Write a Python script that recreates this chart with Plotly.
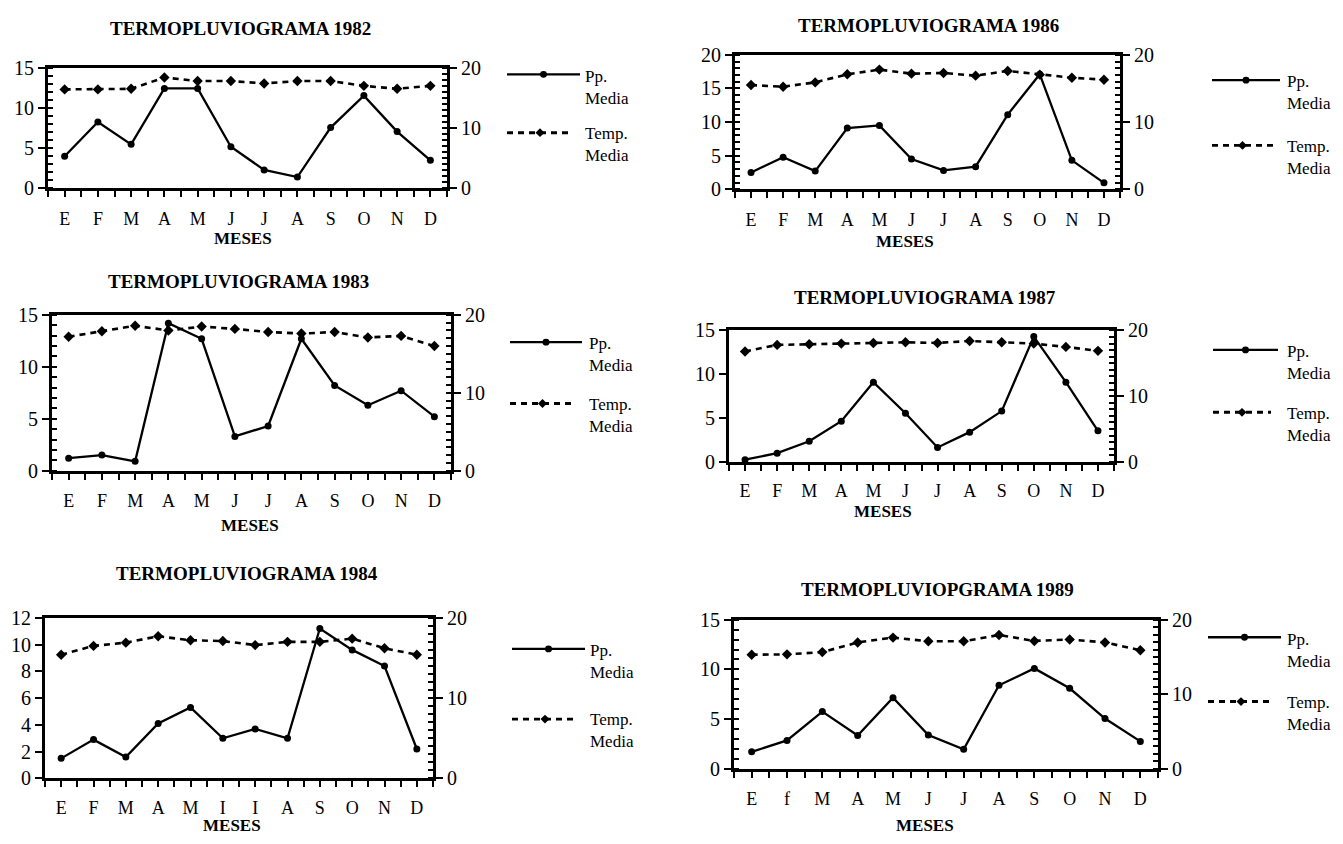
import plotly.graph_objects as go

W, H = 1343, 844

# ---------------- data ----------------
months = ["E", "F", "M", "A", "M", "J", "J", "A", "S", "O", "N", "D"]
months_1984 = ["E", "F", "M", "A", "M", "I", "I", "A", "S", "O", "N", "D"]
months_1989 = ["E", "f", "M", "A", "M", "J", "J", "A", "S", "O", "N", "D"]

pp_1982 = [4.0, 8.3, 5.5, 12.5, 12.5, 5.2, 2.3, 1.4, 7.6, 11.6, 7.1, 3.5]
temp_1982 = [16.5, 16.5, 16.6, 18.5, 17.9, 17.9, 17.5, 17.9, 17.9, 17.1, 16.6, 17.1]

pp_1983 = [1.2, 1.5, 0.9, 14.2, 12.7, 3.3, 4.3, 12.7, 8.2, 6.3, 7.7, 5.2]
temp_1983 = [17.2, 17.9, 18.6, 18.0, 18.5, 18.2, 17.8, 17.6, 17.8, 17.1, 17.3, 16.0]

pp_1984 = [1.5, 2.9, 1.6, 4.1, 5.3, 3.0, 3.7, 3.0, 11.2, 9.6, 8.4, 2.2]
temp_1984 = [15.4, 16.5, 16.9, 17.7, 17.2, 17.1, 16.6, 17.0, 17.0, 17.4, 16.2, 15.4]

pp_1986 = [2.5, 4.75, 2.7, 9.1, 9.5, 4.5, 2.8, 3.35, 11.1, 17.1, 4.3, 0.95]
temp_1986 = [15.5, 15.25, 15.9, 17.1, 17.8, 17.2, 17.3, 16.9, 17.6, 17.05, 16.6, 16.3]

pp_1987 = [0.26, 1.0, 2.35, 4.65, 9.1, 5.55, 1.65, 3.4, 5.8, 14.3, 9.1, 3.55]
temp_1987 = [16.8, 17.8, 17.9, 18.0, 18.1, 18.2, 18.1, 18.4, 18.2, 18.0, 17.5, 16.9]

pp_1989 = [1.7, 2.85, 5.75, 3.35, 7.15, 3.4, 1.95, 8.4, 10.1, 8.1, 5.05, 2.75]
temp_1989 = [15.3, 15.35, 15.65, 16.95, 17.6, 17.1, 17.1, 17.95, 17.15, 17.35, 16.95, 15.9]

titles = ["TERMOPLUVIOGRAMA 1982", "TERMOPLUVIOGRAMA 1983", "TERMOPLUVIOGRAMA 1984",
          "TERMOPLUVIOGRAMA 1986", "TERMOPLUVIOGRAMA 1987", "TERMOPLUVIOPGRAMA 1989"]
pp_series = [pp_1982, pp_1983, pp_1984, pp_1986, pp_1987, pp_1989]
temp_series = [temp_1982, temp_1983, temp_1984, temp_1986, temp_1987, temp_1989]
month_labels = [months, months, months_1984, months, months, months_1989]
left_max = [15, 15, 12, 20, 15, 15]
left_dtick = [5, 5, 2, 5, 5, 5]
left_minor = [True, True, False, True, False, True]

# ---------------- layout geometry (pixels) ----------------
boxes = [
    (48, 447, 59, 182), (52, 451, 312, 472), (45, 433, 623, 788),
    (735, 1120, 45, 183), (729, 1114, 328, 463), (734, 1158, 625, 778),
]
title_pos = [(240, 18), (238, 278), (247, 578), (928, 15), (925, 294), (937, 594)]
meses_pos = [(243, 234), (250, 528), (232, 836), (905, 237), (883, 514), (925, 836)]
month_standoff = [6, 6, 5, 6, 4, 6]
legend_pos = [
    (507, 580, 65, 125, 583), (510, 582, 340, 403, 587), (512, 585, 655, 727, 588),
    (1212, 1280, 71, 138, 1285), (1213, 1278, 348, 412, 1285), (1208, 1281, 643, 709, 1285),
]

FONT = "Liberation Serif"
BLACK = "#000000"
DASH = "6px,5px"


def px(x):
    return x / W


def py(y):
    return 1 - y / H


fig = go.Figure()
layout = dict(
    width=W, height=H, margin=dict(l=0, r=0, t=0, b=0),
    paper_bgcolor="white", plot_bgcolor="white", showlegend=False,
    font=dict(family=FONT, color=BLACK),
)
annotations = []
shapes = []

for i in range(6):
    n = i + 1
    xname = "x" if n == 1 else f"x{n}"
    yl_n = 2 * i + 1
    yr_n = 2 * i + 2
    yl = "y" if yl_n == 1 else f"y{yl_n}"
    yr = f"y{yr_n}"
    x0, x1, yt, yb = boxes[i]
    xs = list(range(len(month_labels[i])))

    fig.add_trace(go.Scatter(
        x=xs, y=pp_series[i], xaxis=xname, yaxis=yl, mode="lines+markers",
        line=dict(color=BLACK, width=2.3), marker=dict(symbol="circle", size=7, color=BLACK),
        name="Pp. Media", cliponaxis=False,
    ))
    fig.add_trace(go.Scatter(
        x=xs, y=temp_series[i], xaxis=xname, yaxis=yr, mode="lines+markers",
        line=dict(color=BLACK, width=2.6, dash=DASH),
        marker=dict(symbol="diamond", size=8, color=BLACK),
        name="Temp. Media", cliponaxis=False,
    ))

    xkey = "xaxis" if n == 1 else f"xaxis{n}"
    ylkey = "yaxis" if yl_n == 1 else f"yaxis{yl_n}"
    yrkey = f"yaxis{yr_n}"

    layout[xkey] = dict(
        domain=[px(x0), px(x1)], anchor=yl, range=[-0.5, 11.5],
        tickmode="array", tickvals=xs, ticktext=month_labels[i],
        ticks="outside", ticklen=6, tickwidth=2, tickcolor=BLACK,
        showline=True, linewidth=3, linecolor=BLACK, mirror=True,
        showgrid=False, zeroline=False, ticklabelstandoff=month_standoff[i],
        tickfont=dict(family=FONT, size=18, color=BLACK),
        minor=dict(tickmode="linear", tick0=0.5, dtick=1, ticks="outside",
                   ticklen=6, tickwidth=2, tickcolor=BLACK, showgrid=False),
    )
    ylayout = dict(
        domain=[py(yb), py(yt)], anchor=xname, range=[0, left_max[i]],
        tickmode="linear", tick0=0, dtick=left_dtick[i],
        ticks="outside", ticklen=7, tickwidth=2, tickcolor=BLACK,
        showline=True, linewidth=3, linecolor=BLACK,
        showgrid=False, zeroline=False,
        tickfont=dict(family=FONT, size=20, color=BLACK),
    )
    if left_minor[i]:
        ylayout["minor"] = dict(tickmode="linear", tick0=0, dtick=1, ticks="inside",
                                ticklen=5, tickwidth=1.5, tickcolor=BLACK, showgrid=False)
    layout[ylkey] = ylayout
    layout[yrkey] = dict(
        overlaying=yl, side="right", anchor=xname, range=[0, 20],
        tickmode="linear", tick0=0, dtick=10,
        ticks="outside", ticklen=7, tickwidth=2, tickcolor=BLACK,
        showline=True, linewidth=3, linecolor=BLACK,
        showgrid=False, zeroline=False,
        tickfont=dict(family=FONT, size=20, color=BLACK),
        minor=dict(tickmode="linear", tick0=0, dtick=1, ticks="inside",
                   ticklen=5, tickwidth=1.5, tickcolor=BLACK, showgrid=False),
    )

    tx, ty = title_pos[i]
    annotations.append(dict(
        text=f"<b>{titles[i]}</b>", x=px(tx), y=py(ty), xref="paper", yref="paper",
        xanchor="center", yanchor="middle", showarrow=False,
        font=dict(family=FONT, size=19, color=BLACK),
    ))
    mx, my = meses_pos[i]
    annotations.append(dict(
        text="<b>MESES</b>", x=px(mx), y=py(my), xref="paper", yref="paper",
        xanchor="center", yanchor="middle", showarrow=False,
        font=dict(family=FONT, size=17, color=BLACK),
    ))

    # legend block
    lx0, lx1, ypp, ytmp, ltx = legend_pos[i]
    shapes.append(dict(type="line", xref="paper", yref="paper",
                       x0=px(lx0), x1=px(lx1), y0=py(ypp), y1=py(ypp),
                       line=dict(color=BLACK, width=2.3)))
    cx = (lx0 + lx1) / 2
    shapes.append(dict(type="circle", xref="paper", yref="paper",
                       x0=px(cx - 3.5), x1=px(cx + 3.5), y0=py(ypp + 3.5), y1=py(ypp - 3.5),
                       fillcolor=BLACK, line=dict(color=BLACK, width=0)))
    tx1 = lx1 - 7
    shapes.append(dict(type="line", xref="paper", yref="paper",
                       x0=px(lx0), x1=px(tx1), y0=py(ytmp), y1=py(ytmp),
                       line=dict(color=BLACK, width=2.8, dash=DASH)))
    dcx = (lx0 + tx1) / 2
    shapes.append(dict(type="path", xref="paper", yref="paper",
                       path=(f"M {px(dcx - 4.5)} {py(ytmp)} L {px(dcx)} {py(ytmp - 4.5)} "
                             f"L {px(dcx + 4.5)} {py(ytmp)} L {px(dcx)} {py(ytmp + 4.5)} Z"),
                       fillcolor=BLACK, line=dict(color=BLACK, width=0)))
    annotations.append(dict(
        text="Pp.<br>Media", x=px(ltx), y=py(ypp - 10), xref="paper", yref="paper",
        xanchor="left", yanchor="top", align="left", showarrow=False,
        font=dict(family=FONT, size=17, color=BLACK),
    ))
    annotations.append(dict(
        text="Temp.<br>Media", x=px(ltx), y=py(ytmp - 11), xref="paper", yref="paper",
        xanchor="left", yanchor="top", align="left", showarrow=False,
        font=dict(family=FONT, size=17, color=BLACK),
    ))

layout["annotations"] = annotations
layout["shapes"] = shapes
fig.update_layout(**layout)
fig.write_html(
    "out.html",
    config={"displayModeBar": False},
    post_script="document.body.style.margin='0px';document.body.style.overflow='hidden';",
)
